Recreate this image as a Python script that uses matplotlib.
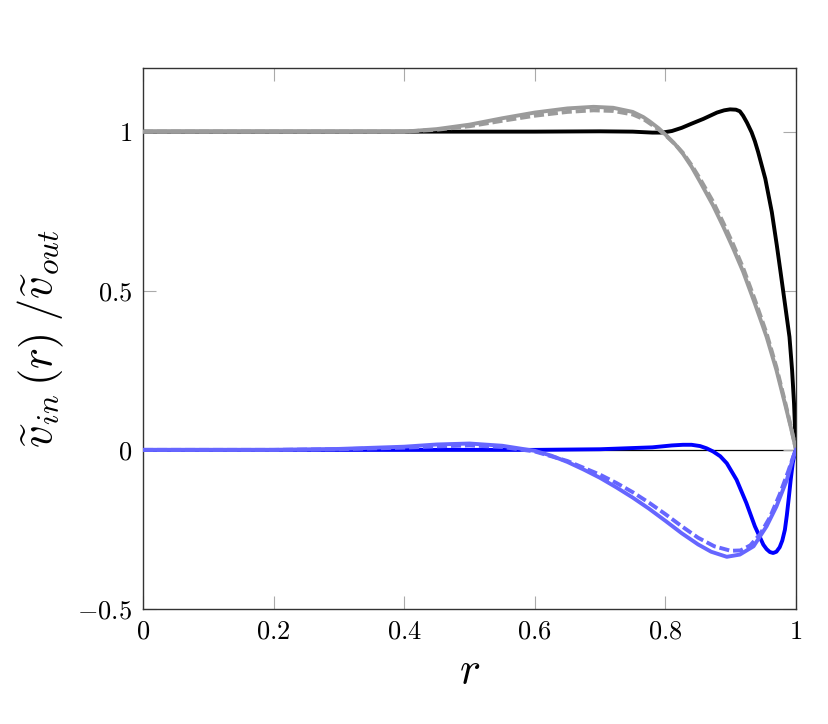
import matplotlib
matplotlib.use("Agg")
import matplotlib.pyplot as plt
from matplotlib.ticker import FixedLocator, FixedFormatter

plt.rcParams['mathtext.fontset'] = 'cm'
plt.rcParams['font.family'] = 'serif'
plt.rcParams['font.serif'] = ['cmr10', 'DejaVu Serif']

# ---- data ----
black_x = [0.0, 0.2, 0.4, 0.6, 0.7, 0.75, 0.78, 0.795, 0.81, 0.825, 0.84, 0.858, 0.879, 0.89, 0.899, 0.908,
           0.914, 0.919, 0.925, 0.932, 0.937, 0.942, 0.953, 0.963, 0.9706, 0.976, 0.983, 0.990, 0.994, 0.997,
           0.999, 1.0]
black_y = [1.0, 1.0, 1.0, 1.0, 1.001, 1.0, 0.997, 0.997, 1.002, 1.012, 1.025, 1.040, 1.060, 1.067, 1.070, 1.069,
           1.064, 1.050, 1.028, 0.998, 0.970, 0.936, 0.852, 0.747, 0.643, 0.564, 0.460, 0.355, 0.251, 0.146,
           0.042, 0.0]

gray_x = [0.0, 0.2, 0.4, 0.45, 0.5, 0.55, 0.6, 0.65, 0.69, 0.72, 0.75, 0.766, 0.776, 0.79, 0.802, 0.815, 0.827,
          0.84, 0.853, 0.873, 0.889, 0.904, 0.919, 0.937, 0.955, 0.970, 0.983, 0.993, 1.0]
gray_y = [1.0, 1.0, 1.0, 1.008, 1.022, 1.042, 1.060, 1.073, 1.078, 1.075, 1.062, 1.046, 1.032, 1.010, 0.987, 0.960,
          0.930, 0.890, 0.843, 0.768, 0.700, 0.632, 0.560, 0.460, 0.355, 0.251, 0.146, 0.063, 0.0]

grayd_x = gray_x
grayd_y = [1.0, 1.0, 1.0, 1.006, 1.017, 1.034, 1.050, 1.062, 1.067, 1.065, 1.054, 1.040, 1.026, 1.006, 0.985, 0.960,
           0.933, 0.895, 0.852, 0.780, 0.712, 0.645, 0.572, 0.472, 0.366, 0.260, 0.153, 0.066, 0.0]

blue_x = [0.0, 0.2, 0.4, 0.6, 0.7, 0.78, 0.81, 0.827, 0.84, 0.853, 0.863, 0.873, 0.884, 0.894, 0.909, 0.924,
          0.937, 0.950, 0.955, 0.960, 0.965, 0.970, 0.975, 0.979, 0.983, 0.986, 0.989, 0.992, 0.995, 0.998, 1.0]
blue_y = [0.0, 0.0, 0.0, 0.0, 0.002, 0.008, 0.014, 0.016, 0.016, 0.012, 0.005, -0.005, -0.020, -0.042, -0.094,
          -0.167, -0.240, -0.298, -0.312, -0.321, -0.324, -0.320, -0.306, -0.285, -0.251, -0.205, -0.150, -0.092,
          -0.042, -0.010, 0.0]

lblue_x = [0.0, 0.2, 0.3, 0.4, 0.45, 0.5, 0.55, 0.6, 0.625, 0.65, 0.675, 0.7, 0.725, 0.75, 0.775, 0.8, 0.825,
           0.85, 0.87, 0.894, 0.914, 0.935, 0.955, 0.970, 0.986, 0.996, 1.0]
lblue_y = [0.0, 0.0, 0.003, 0.010, 0.017, 0.020, 0.013, -0.003, -0.018, -0.038, -0.062, -0.088, -0.118, -0.150,
           -0.185, -0.223, -0.262, -0.297, -0.320, -0.336, -0.329, -0.303, -0.240, -0.178, -0.094, -0.021, 0.0]

lblued_x = [0.0, 0.2, 0.3, 0.4, 0.45, 0.5, 0.55, 0.6, 0.65, 0.7, 0.725, 0.75, 0.775, 0.8, 0.825, 0.85, 0.875,
            0.9, 0.915, 0.93, 0.945, 0.96, 0.975, 0.988, 0.996, 1.0]
lblued_y = [0.0, 0.0, 0.002, 0.007, 0.011, 0.014, 0.009, -0.005, -0.035, -0.078, -0.104, -0.133, -0.166, -0.202,
            -0.240, -0.276, -0.303, -0.317, -0.316, -0.300, -0.265, -0.212, -0.140, -0.068, -0.020, 0.0]

xticks = [0, 0.2, 0.4, 0.6, 0.8, 1]
xtick_labels = ['$0$', '$0.2$', '$0.4$', '$0.6$', '$0.8$', '$1$']
yticks = [-0.5, 0, 0.5, 1]
ytick_labels = ['$-0.5$', '$0$', '$0.5$', '$1$']

# ---- figure ----
fig = plt.figure(figsize=(8.29, 7.24), dpi=100)
ax = fig.add_axes([143/829, 1-609/724, (796-143)/829, (609-68)/724])

lw = 2.8
ax.axhline(0, color='black', lw=0.9, zorder=1)
ax.plot(black_x, black_y, color='black', lw=lw, zorder=3)
ax.plot(grayd_x, grayd_y, color='#9b9b9b', lw=lw, dashes=(2.6, 1.0), zorder=4)
ax.plot(gray_x, gray_y, color='#9b9b9b', lw=lw, zorder=5)
ax.plot(blue_x, blue_y, color='#0000ff', lw=lw, zorder=3)
ax.plot(lblued_x, lblued_y, color='#6666ff', lw=lw, dashes=(2.6, 1.0), zorder=4)
ax.plot(lblue_x, lblue_y, color='#6666ff', lw=lw, zorder=5)

ax.set_xlim(0, 1)
ax.set_ylim(-0.5, 1.2)
ax.xaxis.set_major_locator(FixedLocator(xticks))
ax.xaxis.set_major_formatter(FixedFormatter(xtick_labels))
ax.yaxis.set_major_locator(FixedLocator(yticks))
ax.yaxis.set_major_formatter(FixedFormatter(ytick_labels))

ax.tick_params(axis='both', which='major', direction='in', length=9.5, width=0.8,
               color='#aaaaaa', labelsize=19, top=True, right=True, pad=8)
for s in ax.spines.values():
    s.set_color('#333333')
    s.set_linewidth(1.0)

ax.set_xlabel(r'$r$', fontsize=32, labelpad=6)
ax.set_ylabel(r'$\widetilde{v}_{in}\,(r)\;/\widetilde{v}_{out}$', fontsize=32, labelpad=8)

fig.savefig('out.png', dpi=100)
